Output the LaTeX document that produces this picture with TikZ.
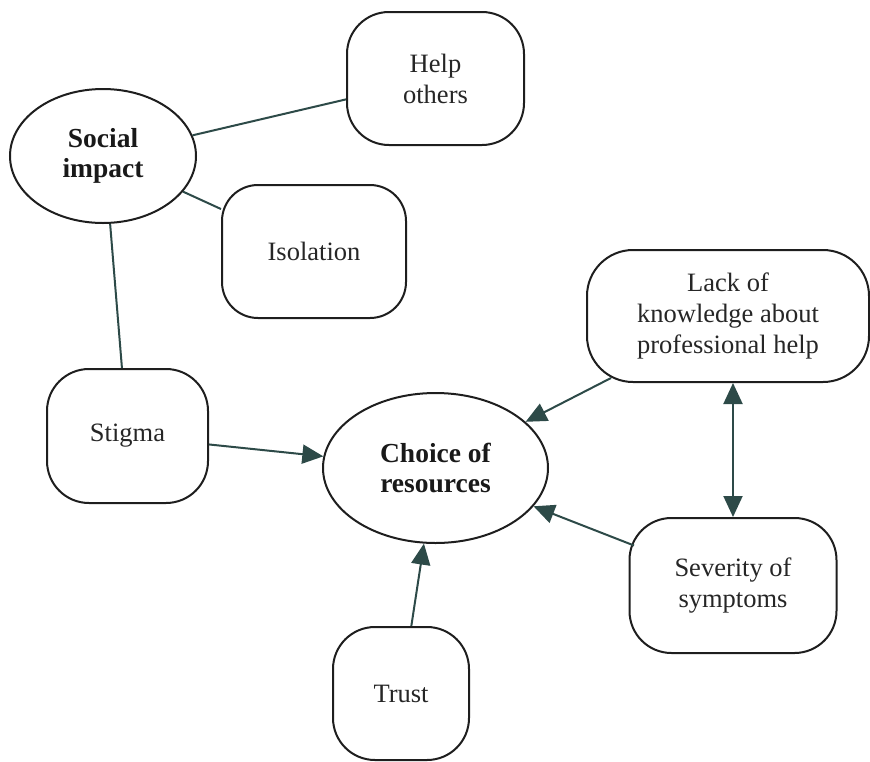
\documentclass[tikz,border=0pt]{standalone}
\usepackage{fontspec}
\setmainfont{Liberation Serif}
\usetikzlibrary{shapes.geometric,arrows.meta}
\definecolor{edgec}{HTML}{2D4A48}
\definecolor{bordc}{HTML}{1E1E1E}
\begin{document}
\begin{tikzpicture}[x=1pt,y=-1pt,
  box/.style={draw=bordc,line width=2pt,rounded corners=42pt,align=center,
    font=\fontsize{26.5}{31}\selectfont,text=black!85,inner sep=0pt},
  oval/.style={ellipse,draw=bordc,line width=2pt,align=center,
    font=\fontsize{27.5}{30}\selectfont\bfseries,text=black!90,inner sep=0pt},
  conn/.style={draw=edgec,line width=2pt},
  arr/.style={conn,-{Triangle[length=21pt,width=19pt]}},
  darr/.style={conn,{Triangle[length=21pt,width=19pt]}-{Triangle[length=21pt,width=19pt]}}]
\useasboundingbox (0,0) rectangle (870,761);

\node[oval,minimum width=186pt,minimum height=134pt] (social) at (103,156) {Social\\impact};
\node[box,minimum width=177pt,minimum height=133pt] (help) at (435.5,78.5) {Help\\others};
\node[box,rounded corners=36pt,minimum width=184pt,minimum height=133pt] (iso) at (314,251.5) {Isolation};
\node[box,minimum width=161pt,minimum height=134pt] (stigma) at (127.5,436) {Stigma};
\node[oval,minimum width=225pt,minimum height=150pt] (choice) at (435.5,468) {Choice of\\resources};
\node[box,rounded corners=46pt,minimum width=282pt,minimum height=132pt] (lack) at (728,316) {Lack of\\knowledge about\\professional help};
\node[box,minimum width=207pt,minimum height=135pt] (sev) at (733,585.5) {Severity of\\symptoms};
\node[box,minimum width=136pt,minimum height=133pt] (trust) at (401,693.5) {Trust};

\draw[conn] (social.13) -- (help);
\draw[conn] (social.-24) -- (iso);
\draw[conn] (social.-84) -- (stigma);
\draw[arr] (stigma) -- (choice);
\draw[arr] ([shift={(-117,62)}]lack.center) -- (choice);
\draw[darr] (lack.south -| sev.north) -- (sev.north);
\draw[arr] ([shift={(-99,-40)}]sev.center) -- (choice);
\draw[arr] (trust) -- (choice);
\end{tikzpicture}
\end{document}
